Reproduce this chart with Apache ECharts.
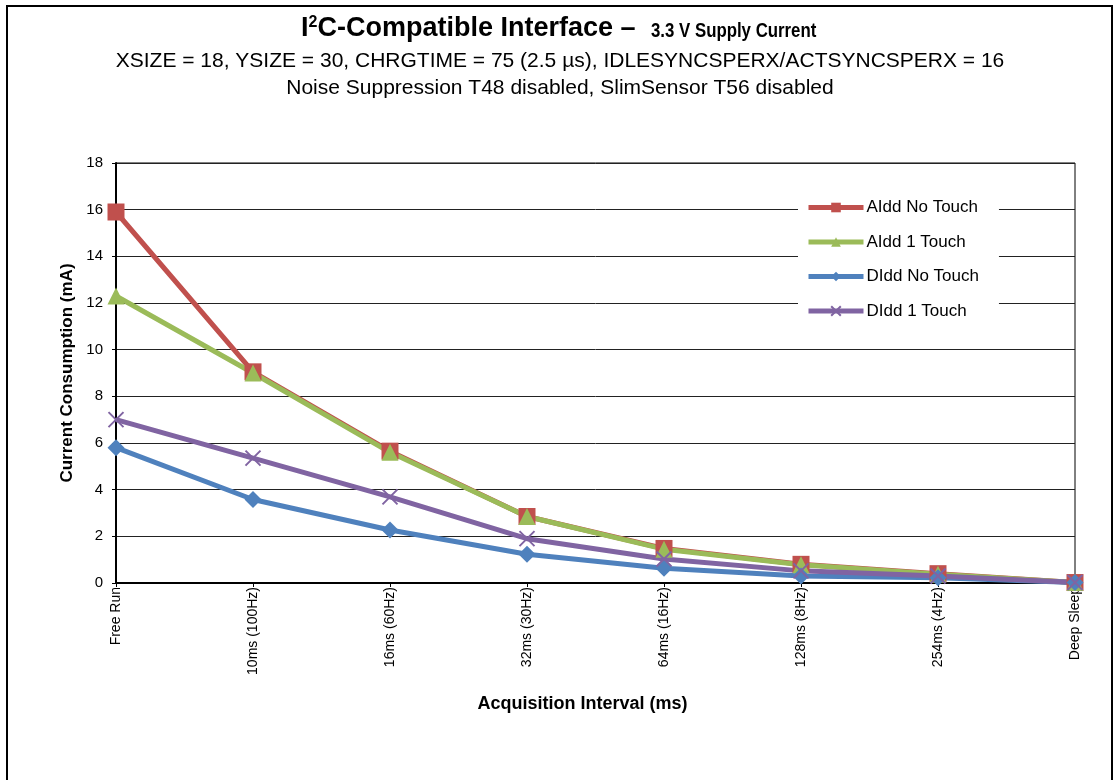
<!DOCTYPE html>
<html>
<head>
<meta charset="utf-8">
<script src="https://cdn.jsdelivr.net/npm/echarts@6/dist/echarts.min.js"></script>
<style>
html,body{margin:0;padding:0;background:#fff;}
#chart{width:1115px;height:780px;}
</style>
</head>
<body>
<div id="chart"></div>
<script>
const categories = ['Free Run','10ms (100Hz)','16ms (60Hz)','32ms (30Hz)','64ms (16Hz)','128ms (8Hz)','254ms (4Hz)','Deep Sleep'];
const aiddNoTouch = [15.9, 9.05, 5.65, 2.85, 1.48, 0.8, 0.4, 0.02];
const aidd1Touch  = [12.3, 9.0, 5.6, 2.85, 1.45, 0.78, 0.38, 0.02];
const diddNoTouch = [5.8, 3.58, 2.27, 1.23, 0.63, 0.3, 0.22, 0.02];
const didd1Touch  = [7.0, 5.35, 3.69, 1.9, 1.03, 0.52, 0.3, 0.02];
const seriesNames = ['AIdd No Touch','AIdd 1 Touch','DIdd No Touch','DIdd 1 Touch'];
const yTicks = {min: 0, max: 18, interval: 2};

const FONT = 'Liberation Sans, Arial, sans-serif';
const chart = echarts.init(document.getElementById('chart'), null, {renderer: 'canvas'});

function mkSeries(name, data, color, symbol, size, extra) {
  return Object.assign({
    name: name,
    type: 'line',
    data: data,
    symbol: symbol,
    symbolSize: size,
    lineStyle: {color: color, width: 5},
    itemStyle: {color: color},
    emphasis: {disabled: true},
    animation: false
  }, extra || {});
}

chart.setOption({
  animation: false,
  textStyle: {fontFamily: FONT},
  graphic: [
    {type: 'rect', shape: {x: 7, y: 6, width: 1105, height: 800}, style: {fill: 'none', stroke: '#000', lineWidth: 2}, z: 100},
    {
      type: 'text', x: 301, y: 29, z: 100,
      style: {
        text: '{a|I}{s|2}{a|C-Compatible Interface –}',
        align: 'left', verticalAlign: 'middle',
        rich: {
          a: {fontFamily: FONT, fontSize: 27, fontWeight: 'bold', fill: '#000', lineHeight: 30},
          s: {fontFamily: FONT, fontSize: 16, fontWeight: 'bold', fill: '#000', lineHeight: 30, padding: [0,0,12,0]}
        }
      }
    },
    {
      type: 'text', x: 651, y: 31, scaleX: 0.82, z: 100,
      style: {
        text: '3.3 V Supply Current',
        fontFamily: FONT, fontSize: 20.5, fontWeight: 'bold', fill: '#000',
        align: 'left', verticalAlign: 'middle'
      }
    },
    {
      type: 'text', x: 560, y: 61, z: 100,
      style: {
        text: 'XSIZE = 18, YSIZE = 30, CHRGTIME = 75 (2.5 µs), IDLESYNCSPERX/ACTSYNCSPERX = 16',
        fontFamily: FONT, fontSize: 21, fill: '#000', align: 'center', verticalAlign: 'middle'
      }
    },
    {
      type: 'text', x: 560, y: 88, z: 100,
      style: {
        text: 'Noise Suppression T48 disabled, SlimSensor T56 disabled',
        fontFamily: FONT, fontSize: 21, fill: '#000', align: 'center', verticalAlign: 'middle'
      }
    }
  ],
  legend: {
    orient: 'vertical',
    left: 798, top: 190,
    padding: [9, 20, 10, 8],
    backgroundColor: '#fff',
    itemWidth: 55, itemHeight: 12,
    itemGap: 17.5,
    lineStyle: {width: 5},
    data: seriesNames,
    textStyle: {fontFamily: FONT, fontSize: 17, color: '#000', padding: [0,0,0,-2]}
  },
  grid: {left: 116, right: 40, top: 163, bottom: 197, show: true, borderColor: '#000', borderWidth: 1, containLabel: false},
  xAxis: {
    type: 'category',
    data: categories,
    boundaryGap: false,
    name: 'Acquisition Interval (ms)',
    nameLocation: 'middle',
    nameGap: 112,
    nameTextStyle: {fontFamily: FONT, fontSize: 18, fontWeight: 'bold', color: '#000', padding: [0, 26, 0, 0]},
    axisLine: {lineStyle: {color: '#000', width: 2}},
    axisTick: {show: true, length: 4, lineStyle: {color: '#000', width: 1}},
    axisLabel: {rotate: 90, fontFamily: FONT, fontSize: 14, color: '#000', margin: 4, interval: 0},
    splitLine: {show: false}
  },
  yAxis: {
    type: 'value',
    min: yTicks.min, max: yTicks.max, interval: yTicks.interval,
    name: 'Current Consumption (mA)',
    nameLocation: 'middle',
    nameGap: 40,
    nameTextStyle: {fontFamily: FONT, fontSize: 17, fontWeight: 'bold', color: '#000'},
    axisLine: {show: true, lineStyle: {color: '#000', width: 2}},
    axisTick: {show: true, length: 4, lineStyle: {color: '#000', width: 1}},
    axisLabel: {fontFamily: FONT, fontSize: 15, color: '#000', margin: 13},
    splitLine: {show: true, lineStyle: {color: '#222', width: 1}}
  },
  series: [
    mkSeries(seriesNames[0], aiddNoTouch, '#C0504D', 'rect', 17),
    mkSeries(seriesNames[1], aidd1Touch, '#9BBB59', 'triangle', 17),
    mkSeries(seriesNames[2], diddNoTouch, '#4F81BD', 'diamond', 17),
    mkSeries(seriesNames[3], didd1Touch, '#8064A2', 'path://M0,0L10,10M10,0L0,10', 15,
      {itemStyle: {color: '#8064A2', borderColor: '#8064A2', borderWidth: 2}})
  ]
});
</script>
</body>
</html>
